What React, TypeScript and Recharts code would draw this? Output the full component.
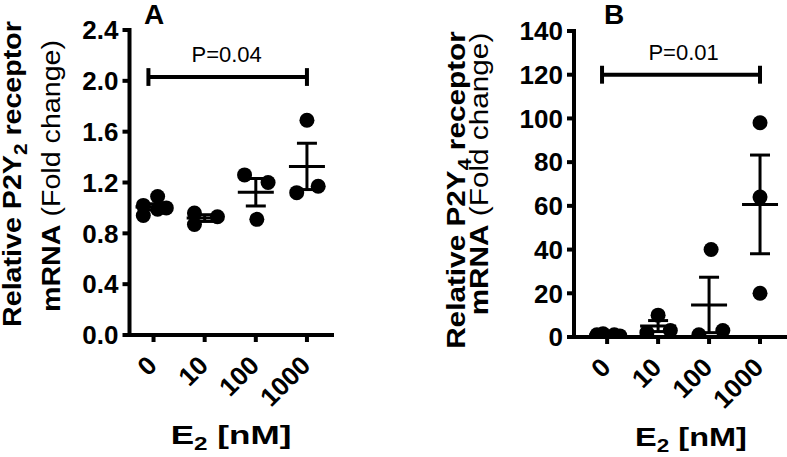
import React from 'react';
import { ScatterChart, Scatter, XAxis, YAxis, ErrorBar, ReferenceLine } from 'recharts';

const FONT = '"Liberation Sans", Arial, Helvetica, sans-serif';

const doses = ['0', '10', '100', '1000'];

// P2Y2 (panel A), one row per dose
const p2y2Values = [
  [0.94, 1.02, 1.09, 0.99, 1.0],
  [0.96, 0.87, 0.93],
  [1.26, 1.2, 0.91],
  [1.69, 1.12, 1.17],
];
const p2y2Jitter = [
  [-0.2, -0.2, 0.08, 0.08, 0.25],
  [-0.2, -0.2, 0.25],
  [-0.22, 0.24, 0.02],
  [0, -0.2, 0.22],
];
const p2y2Ticks = [0, 0.4, 0.8, 1.2, 1.6, 2.0, 2.4];

// P2Y4 (panel B)
const p2y4Values = [
  [1, 1.5, 1, 0.5],
  [2, 10, 3],
  [1, 40, 3],
  [98, 64, 20],
];
const p2y4Jitter = [
  [-0.2, -0.08, 0.14, 0.25],
  [-0.22, 0, 0.24],
  [-0.2, 0.04, 0.27],
  [0, 0, 0],
];
const p2y4Ticks = [0, 20, 40, 60, 80, 100, 120, 140];

const toPoints = (values: number[][], jitter: number[][]) =>
  values.flatMap((g, i) => g.map((v, j) => ({ x: i + jitter[i][j], y: v })));

const toSummary = (values: number[][]) =>
  values.map((g, i) => {
    const mean = g.reduce((a, b) => a + b, 0) / g.length;
    const sd = Math.sqrt(g.reduce((a, b) => a + (b - mean) ** 2, 0) / (g.length - 1));
    return { x: i, y: mean, err: sd / Math.sqrt(g.length) };
  });

const Dot = (props: any) => <circle cx={props.cx} cy={props.cy} r={7.5} fill="#000" />;

const MeanLine = (props: any) => (
  <line x1={props.cx - 18} x2={props.cx + 18} y1={props.cy} y2={props.cy} stroke="#000" strokeWidth={3} />
);

const PText = (props: any) => (
  <text x={props.cx} y={props.cy - 15} textAnchor="middle" fontFamily={FONT} fontSize={22} fill="#000">
    {props.payload.label}
  </text>
);

const XTick = (props: any) => {
  const x = props.x + 5;
  const y = props.y + 25;
  return (
    <text x={x} y={y} transform={`rotate(-45 ${x} ${y})`} textAnchor="end" fontFamily={FONT} fontSize={26} fontWeight={700} fill="#000">
      {doses[props.payload.value]}
    </text>
  );
};

interface TextPos {
  l1: number; c1: number;
  l2: number; c2: number;
  yStretch: number;
  letterX: number;
  xLabelX: number; xLabelY: number; xStretch: number;
}

interface PanelProps {
  left: number;
  width: number;
  letter: string;
  sub: string;
  values: number[][];
  jitter: number[][];
  ticks: number[];
  digits: number;
  xDomain: [number, number];
  yAxisWidth: number;
  marginRight: number;
  top: number;
  xAxisHeight: number;
  bracketY: number;
  bracketCap: number;
  pText: string;
  pX: number;
  text: TextPos;
}

function Panel(p: PanelProps) {
  const points = toPoints(p.values, p.jitter);
  const summary = toSummary(p.values);
  const t = p.text;
  const yMax = p.ticks[p.ticks.length - 1];

  const yLabel = () => (
    <g fontFamily={FONT} fill="#000">
      <text
        transform={`translate(${t.l1} ${t.c1}) rotate(-90) scale(${t.yStretch} 1)`}
        textAnchor="middle"
        fontSize={25}
        fontWeight={700}
      >
        Relative P2Y<tspan fontSize={18} dy={6}>{p.sub}</tspan>
        <tspan dy={-6}> receptor</tspan>
      </text>
      <text
        transform={`translate(${t.l2} ${t.c2}) rotate(-90) scale(${t.yStretch} 1)`}
        textAnchor="middle"
        fontSize={25}
      >
        <tspan fontWeight={700}>mRNA</tspan> (Fold change)
      </text>
      <text x={t.letterX} y={24} textAnchor="middle" fontSize={28} fontWeight={700}>
        {p.letter}
      </text>
    </g>
  );

  const xLabel = () => (
    <text
      transform={`translate(${t.xLabelX} ${t.xLabelY}) scale(${t.xStretch} 1)`}
      textAnchor="middle"
      fontFamily={FONT}
      fontSize={26}
      fontWeight={700}
      fill="#000"
    >
      E<tspan fontSize={18} dy={6}>2</tspan>
      <tspan dy={-6}> [nM]</tspan>
    </text>
  );

  const axisLine = { stroke: '#000', strokeWidth: 4, strokeLinecap: 'square' as const };
  const tickLine = { stroke: '#000', strokeWidth: 4 };

  return (
    <div style={{ position: 'absolute', left: p.left, top: 0 }}>
      <ScatterChart width={p.width} height={457} margin={{ top: p.top, right: p.marginRight, bottom: 0, left: 0 }}>
        <XAxis
          type="number"
          dataKey="x"
          domain={p.xDomain}
          ticks={[0, 1, 2, 3]}
          allowDataOverflow
          height={p.xAxisHeight}
          axisLine={axisLine}
          tickLine={tickLine}
          tickSize={7}
          tickMargin={0}
          tick={<XTick />}
          interval={0}
          label={xLabel}
        />
        <YAxis
          type="number"
          dataKey="y"
          domain={[0, yMax]}
          ticks={p.ticks}
          allowDataOverflow
          width={p.yAxisWidth}
          axisLine={axisLine}
          tickLine={tickLine}
          tickSize={7}
          tickMargin={4}
          interval={0}
          tickFormatter={(v: number) => v.toFixed(p.digits)}
          tick={{ fill: '#000', fontSize: 26, fontWeight: 700, fontFamily: FONT }}
          label={yLabel}
        />
        <ReferenceLine segment={[{ x: -0.1, y: p.bracketY }, { x: 3, y: p.bracketY }]} stroke="#000" strokeWidth={4} ifOverflow="visible" />
        <ReferenceLine segment={[{ x: -0.1, y: p.bracketY - p.bracketCap }, { x: -0.1, y: p.bracketY + p.bracketCap }]} stroke="#000" strokeWidth={4} ifOverflow="visible" />
        <ReferenceLine segment={[{ x: 3, y: p.bracketY - p.bracketCap }, { x: 3, y: p.bracketY + p.bracketCap }]} stroke="#000" strokeWidth={4} ifOverflow="visible" />
        <Scatter data={[{ x: p.pX, y: p.bracketY, label: p.pText }]} shape={PText} isAnimationActive={false} />
        <Scatter data={points} shape={Dot} isAnimationActive={false} />
        <Scatter data={summary} shape={MeanLine} isAnimationActive={false}>
          <ErrorBar dataKey="err" direction="y" width={10} strokeWidth={3} stroke="#000" isAnimationActive={false} />
        </Scatter>
      </ScatterChart>
    </div>
  );
}

export default function App() {
  return (
    <div style={{ position: 'absolute', left: 0, top: 0, width: 787, height: 457, background: '#fff' }}>
      <Panel
        left={0}
        width={393}
        letter="A"
        sub="2"
        values={p2y2Values}
        jitter={p2y2Jitter}
        ticks={p2y2Ticks}
        digits={1}
        xDomain={[-0.47, 3.49]}
        yAxisWidth={129.5}
        marginRight={61}
        top={30}
        xAxisHeight={122}
        bracketY={2.03}
        bracketCap={0.07}
        pText="P=0.04"
        pX={1.43}
        text={{ l1: 21, c1: 174, l2: 60, c2: 176, yStretch: 1.146, letterX: 154, xLabelX: 231, xLabelY: 444, xStretch: 1.35 }}
      />
      <Panel
        left={393}
        width={394}
        letter="B"
        sub="4"
        values={p2y4Values}
        jitter={p2y4Jitter}
        ticks={p2y4Ticks}
        digits={0}
        xDomain={[-0.65, 3.49]}
        yAxisWidth={181}
        marginRight={2}
        top={31}
        xAxisHeight={120}
        bracketY={120}
        bracketCap={4.1}
        pText="P=0.01"
        pX={1.5}
        text={{ l1: 72, c1: 190, l2: 95, c2: 174, yStretch: 1.19, letterX: 221, xLabelX: 298, xLabelY: 446, xStretch: 1.25 }}
      />
    </div>
  );
}
